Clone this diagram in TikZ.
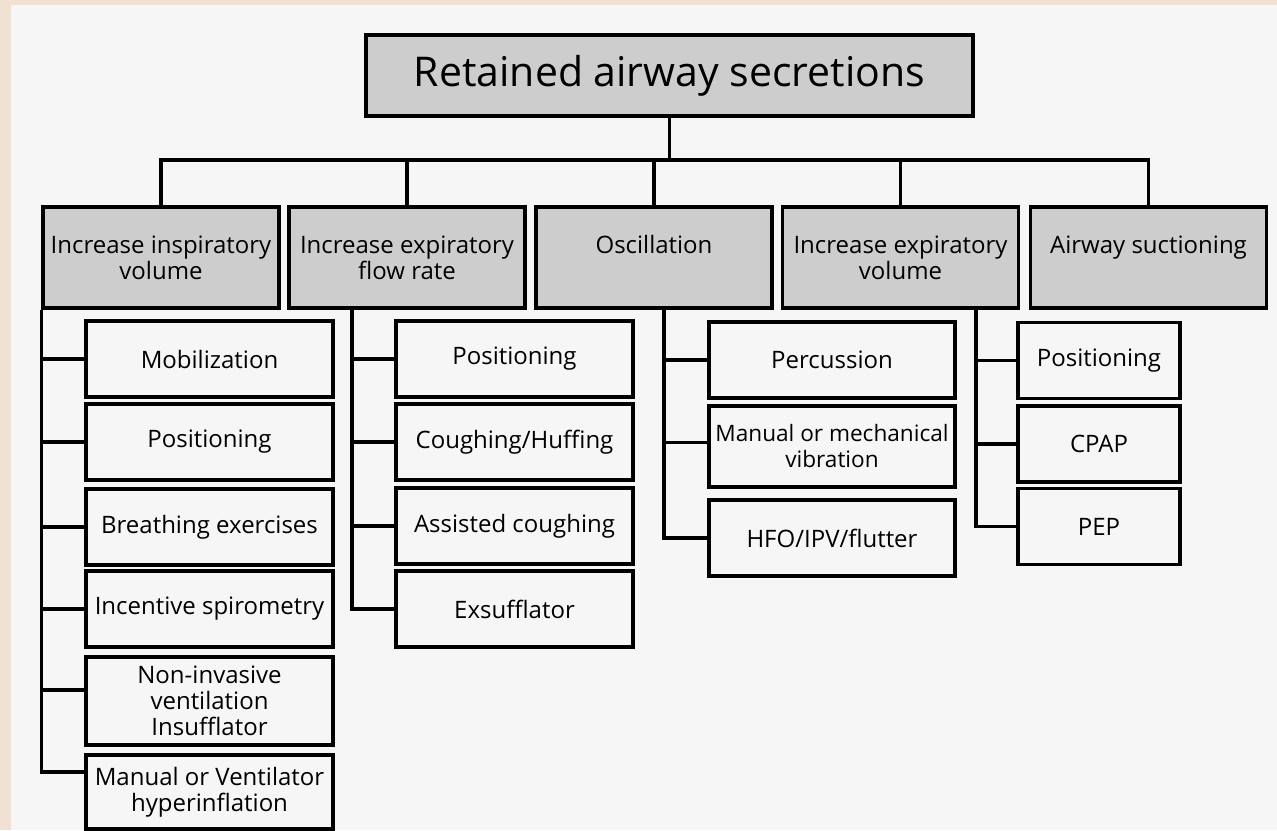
\documentclass[tikz,border=0pt]{standalone}
\usepackage{fontspec}
\setmainfont{Open Sans}
\usetikzlibrary{positioning}
\definecolor{retBeige}{HTML}{F0E1D3}
\definecolor{retPaper}{HTML}{F6F6F6}
\definecolor{retGrey}{HTML}{CDCDCD}

\begin{document}
\begin{tikzpicture}[
  x=0.5pt, y=-0.5pt,
  font=\fontsize{12}{13}\selectfont,
  box/.style={draw, line width=1.6pt, align=center, inner sep=1pt},
  root/.style={box, fill=retGrey, minimum width=303.5pt, minimum height=40.5pt,
               font=\fontsize{20.5}{24}\selectfont},
  cat/.style={box, fill=retGrey, minimum width=118pt, minimum height=50.5pt},
  act/.style={box, fill=retPaper, minimum height=38pt},
  link/.style={draw, line width=1.6pt}
]
% paper
\fill[retBeige] (0,0) rectangle (1277,830);
\fill[retPaper] (11,5) rectangle (1277,830);
\useasboundingbox (0,0) rectangle (1277,830);

\node[root] (top) at (669.5,75.5) {Retained airway secretions};

\node[cat] (insp) at (161,257.5)    {Increase inspiratory\\ volume};
\node[cat] (flow) at (407,257.5)    {Increase expiratory\\ flow rate};
\node[cat] (osc)  at (654,257.5)    {Oscillation\\ \phantom{x}};
\node[cat] (expv) at (900.5,257.5)  {Increase expiratory\\ volume};
\node[cat] (suct) at (1148.5,257.5) {Airway suctioning\\ \phantom{x}};

% increase inspiratory volume
\node[act, minimum width=123.5pt] (mob)   at (209.5,359) {Mobilization};
\node[act, minimum width=123.5pt] (pos1)  at (209.5,442) {Positioning};
\node[act, minimum width=123.5pt] (breath) at (209.5,527) {Breathing exercises};
\node[act, minimum width=123.5pt] (spiro) at (209.5,609) {Incentive spirometry};
\node[act, minimum width=123.5pt, minimum height=44pt] (niv) at (209.5,701)
  {Non-invasive\\ ventilation\\ Insufflator};
\node[act, minimum width=123.5pt, minimum height=37pt] (hyper) at (209.5,792)
  {Manual or Ventilator\\ hyperinflation};

% increase expiratory flow rate
\node[act, minimum width=118.5pt] (pos2)   at (514.5,359) {Positioning};
\node[act, minimum width=118.5pt] (cough)  at (514.5,442) {Coughing/Huffing};
\node[act, minimum width=118.5pt] (assist) at (514.5,526) {Assisted coughing};
\node[act, minimum width=118.5pt] (exsuf)  at (514.5,609) {Exsufflator};

% oscillation
\node[act, minimum width=123pt] (perc) at (832,360) {Percussion};
\node[act, minimum width=123pt, minimum height=40.5pt,
      font=\fontsize{11.3}{13}\selectfont] (vib) at (832,446.5)
  {Manual or mechanical\\ vibration};
\node[act, minimum width=123pt] (hfo)  at (832,538) {HFO/IPV/flutter};

% increase expiratory volume
\node[act, minimum width=81pt] (pos4) at (1099,360.5) {Positioning};
\node[act, minimum width=81pt] (cpap) at (1099,444)   {CPAP};
\node[act, minimum width=81pt] (pep)  at (1099,526.5) {PEP};

% connectors
\coordinate (bus) at (669.5,160);
\coordinate (t2) at (352,308);
\coordinate (t3) at (664,308);
\coordinate (t4) at (976,308);

\draw[link] (top.south) -- (bus);
\draw[link] (insp.north) |- (bus);
\draw[link] (flow.north) |- (bus);
\draw[link] (osc.north) |- (bus);
\draw[link] (expv.north) |- (bus);
\draw[link] (suct.north) |- (bus);

\draw[link] (insp.south west) |- (mob.west);
\draw[link] (insp.south west) |- (pos1.west);
\draw[link] (insp.south west) |- (breath.west);
\draw[link] (insp.south west) |- (spiro.west);
\draw[link] (insp.south west) |- ([yshift=5.5pt]niv.west);
\draw[link] (insp.south west) |- ([yshift=10pt]hyper.west);

\draw[link] (t2) |- (pos2.west);
\draw[link] (t2) |- (cough.west);
\draw[link] (t2) |- (assist.west);
\draw[link] (t2) |- (exsuf.west);

\draw[link] (t3) |- (perc.west);
\draw[link] (t3) |- ([yshift=2pt]vib.west);
\draw[link] (t3) |- (hfo.west);

\draw[link] (t4) |- (pos4.west);
\draw[link] (t4) |- (cpap.west);
\draw[link] (t4) |- (pep.west);
\end{tikzpicture}
\end{document}
